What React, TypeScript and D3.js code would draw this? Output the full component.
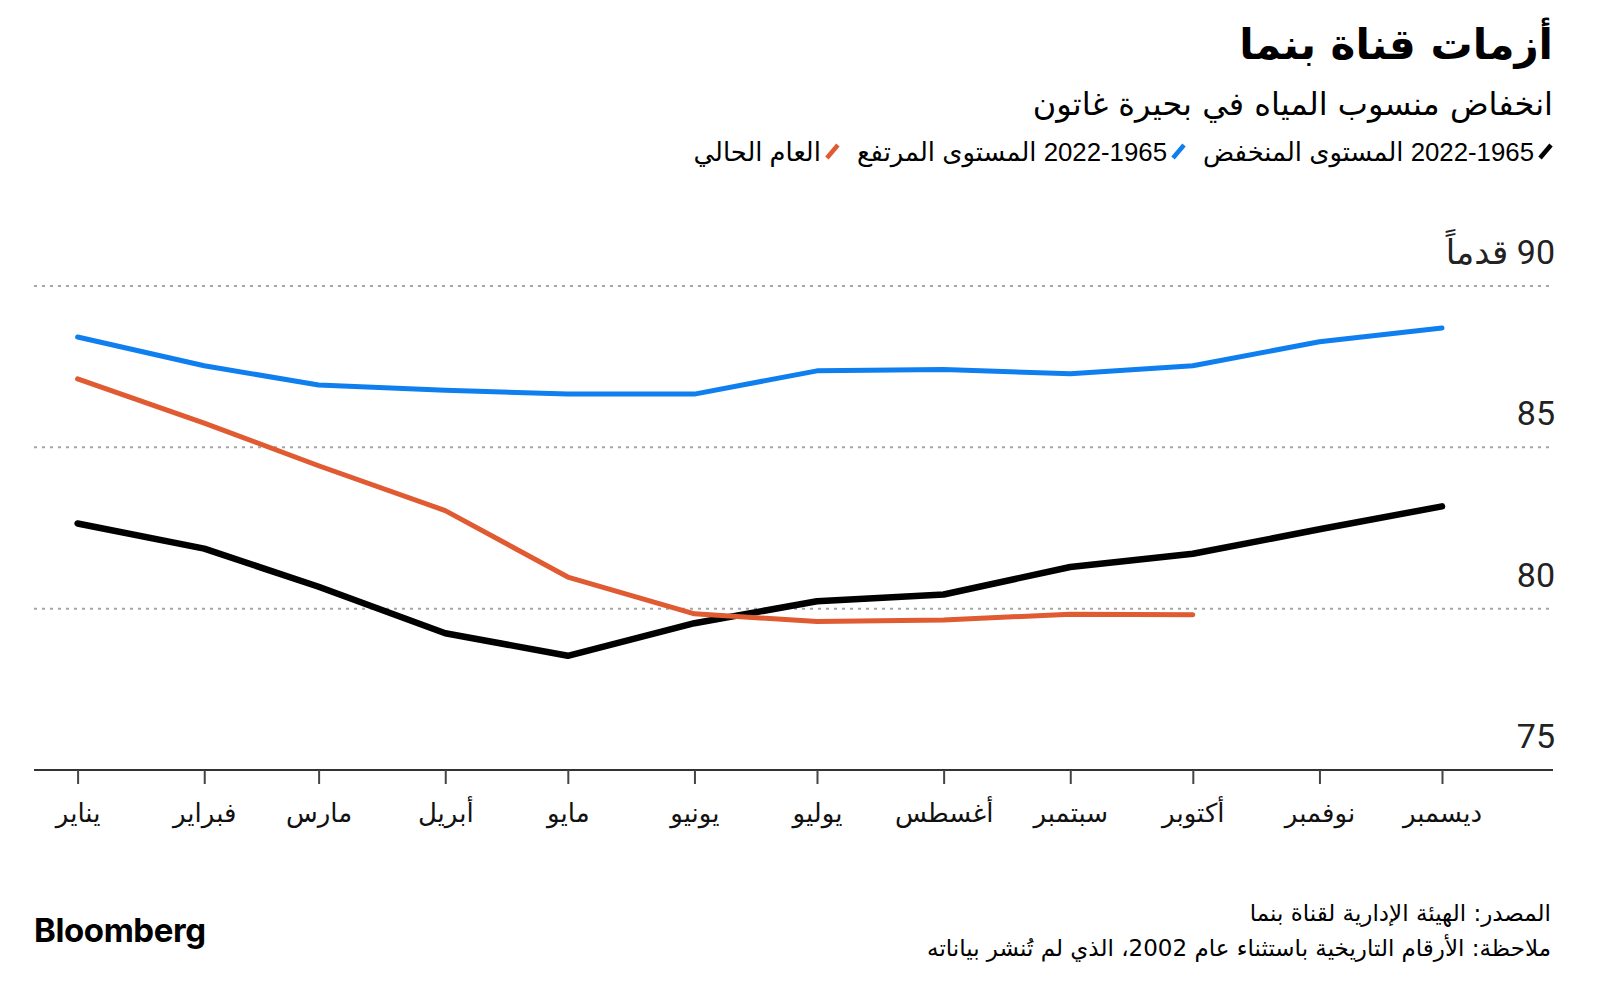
import React, { useEffect, useRef } from "react";
import * as d3 from "d3";

const months = ["يناير", "فبراير", "مارس", "أبريل", "مايو", "يونيو", "يوليو", "أغسطس", "سبتمبر", "أكتوبر", "نوفمبر", "ديسمبر"];
const monthDates = months.map((_, i) => new Date(Date.UTC(2023, i, 1)));
const highLevel = [88.42, 87.53, 86.93, 86.77, 86.65, 86.65, 87.37, 87.41, 87.28, 87.53, 88.27, 88.7];
const lowLevel = [82.64, 81.86, 80.68, 79.24, 78.54, 79.55, 80.23, 80.44, 81.29, 81.7, 82.46, 83.17];
const currentYear = [87.12, 85.75, 84.43, 83.04, 80.98, 79.84, 79.6, 79.65, 79.83, 79.81];
const yTicks = [75, 80, 85, 90];
const yUnit = "قدماً";
const title = "أزمات قناة بنما";
const subtitle = "انخفاض منسوب المياه في بحيرة غاتون";
const legendLabels = ["2022-1965 المستوى المنخفض", "2022-1965 المستوى المرتفع", "العام الحالي"];
const sourceText = "المصدر: الهيئة الإدارية لقناة بنما";
const noteText = "ملاحظة: الأرقام التاريخية باستثناء عام 2002، الذي لم تُنشر بياناته";

const COLORS = { low: "#000000", high: "#0f7ff0", current: "#e05a32" };

export default function App() {
  const ref = useRef<SVGSVGElement>(null);

  useEffect(() => {
    document.body.style.margin = "0";
    document.body.style.overflow = "hidden";
    const svg = d3.select(ref.current as SVGSVGElement);
    svg.selectAll("*").remove();

    const arabic = "'DejaVu Sans', sans-serif";
    const left = 34;
    const right = 1553;

    const x = d3.scaleUtc().domain([monthDates[0], monthDates[11]]).range([77.6, 1442]);
    const y = d3.scaleLinear().domain([75, 90]).range([770, 286]);

    const alignRight = (sel: any, xr: number) => {
      const bb = (sel.node() as SVGTextElement).getBBox();
      const cur = +sel.attr("x");
      sel.attr("x", cur + (xr - (bb.x + bb.width)));
      return bb.width;
    };

    svg.append("rect").attr("width", 1600).attr("height", 989).attr("fill", "#fff");

    // Title
    const tt = svg.append("text").attr("x", right).attr("y", 59).attr("direction", "rtl")
      .attr("font-family", arabic).attr("font-weight", 700).attr("font-size", 42).attr("fill", "#000").text(title);
    alignRight(tt, right);
    const st = svg.append("text").attr("x", right).attr("y", 115).attr("direction", "rtl")
      .attr("font-family", arabic).attr("font-size", 32).attr("fill", "#000").text(subtitle);
    alignRight(st, right);

    // Legend
    const legendColors = [COLORS.low, COLORS.high, COLORS.current];
    let xr = right;
    const ly = 161;
    legendLabels.forEach((lab, i) => {
      svg.append("line").attr("x1", xr - 13).attr("y1", ly - 3).attr("x2", xr - 2).attr("y2", ly - 16)
        .attr("stroke", legendColors[i]).attr("stroke-width", 4.5);
      const tx = svg.append("text").attr("x", xr - 20).attr("y", ly).attr("direction", "rtl")
        .attr("font-family", "'Liberation Sans', 'DejaVu Sans', sans-serif").attr("font-size", 25.8).attr("fill", "#000").text(lab);
      const w = alignRight(tx, xr - 19);
      xr = xr - 19 - w - 17;
    });

    // Grid
    const grid = svg.append("g");
    grid.selectAll("line").data(yTicks.filter((d) => d > 75)).join("line")
      .attr("x1", left).attr("x2", right)
      .attr("y1", (d) => y(d)).attr("y2", (d) => y(d))
      .attr("stroke", "#a5a5a5").attr("stroke-width", 2).attr("stroke-dasharray", "3,5");

    // Y labels
    yTicks.forEach((v) => {
      const t = svg.append("text").attr("x", right).attr("y", y(v) - 22).attr("direction", "rtl")
        .attr("font-family", "Roboto, 'DejaVu Sans', sans-serif").attr("font-size", 34).attr("fill", "#222")
        .text(v === 90 ? `${v} ${yUnit}` : `${v}`);
      alignRight(t, right + 2);
    });

    // X axis
    svg.append("line").attr("x1", left).attr("x2", right).attr("y1", y(75)).attr("y2", y(75))
      .attr("stroke", "#333").attr("stroke-width", 2);
    const ax = svg.append("g").attr("transform", `translate(0,${y(75)})`)
      .call(d3.axisBottom(x).tickValues(monthDates).tickSize(14).tickFormat((_d, i) => months[i]) as any);
    ax.select(".domain").remove();
    ax.selectAll(".tick line").attr("stroke", "#444").attr("stroke-width", 2);
    ax.selectAll(".tick text").attr("font-family", arabic).attr("font-size", 26).attr("fill", "#111")
      .attr("y", 52).attr("dy", 0);
    ax.attr("font-family", null).attr("font-size", null);

    // Lines
    const line = d3.line<number>().x((_d, i) => x(monthDates[i])).y((d) => y(d));
    const series = [
      { data: lowLevel, color: COLORS.low, w: 6.5 },
      { data: highLevel, color: COLORS.high, w: 5 },
      { data: currentYear, color: COLORS.current, w: 5 },
    ];
    series.forEach((s) => {
      svg.append("path").attr("d", line(s.data) as string).attr("fill", "none")
        .attr("stroke", s.color).attr("stroke-width", s.w)
        .attr("stroke-linejoin", "round").attr("stroke-linecap", "round");
    });

    // Footer
    const s1 = svg.append("text").attr("x", 1551).attr("y", 921).attr("direction", "rtl")
      .attr("font-family", arabic).attr("font-size", 23).attr("fill", "#000").text(sourceText);
    alignRight(s1, 1551);
    const s2 = svg.append("text").attr("x", 1551).attr("y", 956).attr("direction", "rtl")
      .attr("font-family", arabic).attr("font-size", 23).attr("fill", "#000").text(noteText);
    alignRight(s2, 1551);

    svg.append("text").attr("x", 34).attr("y", 942).attr("font-family", "Inter, Roboto, sans-serif")
      .attr("font-weight", 700).attr("font-size", 33).attr("letter-spacing", -0.4).attr("fill", "#000").text("Bloomberg");
  }, []);

  return (
    <svg ref={ref} width={1600} height={989} style={{ position: "absolute", left: 0, top: 0, display: "block" }} />
  );
}
